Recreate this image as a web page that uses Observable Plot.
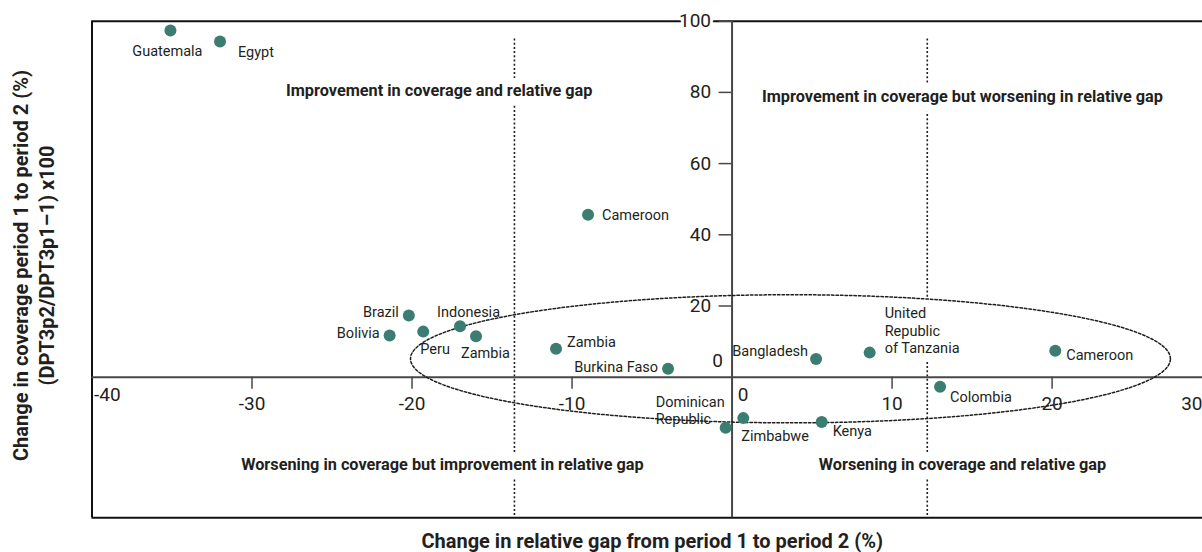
<!DOCTYPE html>
<html>
<head>
<meta charset="utf-8">
<script src="https://cdn.jsdelivr.net/npm/d3@7"></script>
<script src="https://cdn.jsdelivr.net/npm/@observablehq/plot@0.6"></script>
<style>
  html, body { margin: 0; padding: 0; background: #fff; }
  #chart svg { display: block; }
</style>
</head>
<body>
<div id="chart"></div>
<script>
// ---- data ----
const countries = ["Guatemala", "Egypt", "Cameroon", "Brazil", "Bolivia", "Peru", "Indonesia", "Zambia", "Zambia",
  "Burkina Faso", "Bangladesh", "United\nRepublic\nof Tanzania", "Colombia", "Cameroon", "Dominican\nRepublic", "Zimbabwe", "Kenya"];
const relativeGapChange = [-35.1, -32.0, -9.0, -20.2, -21.4, -19.3, -17.0, -16.0, -11.0, -4.0, 5.25, 8.6, 13.0, 20.2, -0.4, 0.7, 5.6];
const coverageChange = [97.4, 94.3, 45.6, 17.3, 11.7, 12.8, 14.3, 11.5, 8.0, 2.4, 5.1, 6.9, -2.7, 7.4, -14.2, -11.5, -12.6];

const xTickValues = [-40, -30, -20, -10, 0, 10, 20, 30];
const yTickValues = [0, 20, 40, 60, 80, 100];

const quadrantTexts = [
  "Improvement in coverage and relative gap",
  "Improvement in coverage but worsening in relative gap",
  "Worsening in coverage but improvement in relative gap",
  "Worsening in coverage and relative gap"
];
const quadrantX = [-18.3, 14.4, -18.1, 14.4];
const quadrantY = [80.5, 78.7, -24.5, -24.5];

const cutoffLines = [-13.6, 12.2];
const cutoffTop = 95;
// ellipse annotation: centre x, centre y, semi-axis x, semi-axis y
const ellipseSpec = [3.65, 5.17, 23.75, 18];

const xDomain = [-40, 29.4];
const yDomain = [-39.5, 100];

const xTitle = "Change in relative gap from period 1 to period 2 (%)";
const yTitle1 = "Change in coverage period 1 to period 2 (%)";
const yTitle2 = "(DPT3p2/DPT3p1\u20131) x100";

// ---- label placement (style, not data) ----
const labelPlacement = [
  ["middle", -3, 20], ["start", 18, 10], ["start", 14, 0], ["end", -10, -4], ["end", -10, -3],
  ["start", -3, 17], ["start", -23, -15], ["start", -15, 16], ["start", 11, -7], ["end", -10, -2],
  ["end", -8, -9], ["start", 15, -22.5], ["start", 10, 10], ["start", 11, 4], ["start", -70, -17.6],
  ["start", -2, 17], ["start", 11, 8]
];

const idx = countries.map((_, i) => i);
const px = i => relativeGapChange[i];
const py = i => coverageChange[i];

const steps = d3.range(0, 361, 3);
const ellipsePts = steps.map(a => {
  const t = a * Math.PI / 180;
  return {x: ellipseSpec[0] + ellipseSpec[2] * Math.cos(t), y: ellipseSpec[1] + ellipseSpec[3] * Math.sin(t)};
});

const FONT = "Roboto, 'Open Sans', sans-serif";
const TXT = "#231f20";
const DOT = "#3b7d70";
const LABEL_SIZE = 14.5;
const TICK_SIZE = 19;
const QUAD_SIZE = 16.3;
const TITLE_SIZE = 20;

const labelMarks = idx.map(i => Plot.text([i], {
  x: px, y: py, text: d => countries[d],
  textAnchor: labelPlacement[i][0], dx: labelPlacement[i][1], dy: labelPlacement[i][2],
  fontSize: LABEL_SIZE, fill: TXT, lineHeight: 1.2, lineAnchor: "middle"
}));

const tanzania = 11;

const chart = Plot.plot({
  width: 1202,
  height: 552,
  marginLeft: 91.5,
  marginRight: 0,
  marginTop: 20.7,
  marginBottom: 34.7,
  x: {domain: xDomain, axis: null},
  y: {domain: yDomain, axis: null},
  style: {fontFamily: FONT, color: TXT, background: "white", overflow: "visible"},
  marks: [
    // dotted cut-off lines
    Plot.ruleX(cutoffLines, {x: d => d, y1: cutoffTop, y2: yDomain[0], stroke: "#1e1e1e", strokeWidth: 1.6, strokeDasharray: "2,2.2"}),
    // white boxes behind quadrant labels and Tanzania label
    Plot.text(quadrantTexts, {x: (d, i) => quadrantX[i], y: (d, i) => quadrantY[i], text: d => d,
      fontSize: QUAD_SIZE, fontWeight: "bold", fill: "white", stroke: "white", strokeWidth: 18, strokeLinejoin: "round"}),
    Plot.text([tanzania], {x: px, y: py, text: d => countries[d], textAnchor: "start", dx: 15, dy: -22.5,
      fontSize: LABEL_SIZE, lineHeight: 1.2, lineAnchor: "middle", fill: "white", stroke: "white", strokeWidth: 18, strokeLinejoin: "round"}),
    // frame
    Plot.ruleY([yDomain[1], yDomain[0]], {y: d => d, stroke: "#111", strokeWidth: 2}),
    Plot.ruleX([xDomain[0]], {x: d => d, stroke: "#111", strokeWidth: 2}),
    // axes through origin
    Plot.ruleY([0], {y: d => d, stroke: "#474747", strokeWidth: 2}),
    Plot.ruleX([0], {x: d => d, stroke: "#474747", strokeWidth: 2}),
    // ticks
    Plot.ruleX(xTickValues.filter(v => v !== 0 && v > xDomain[0] && v < xDomain[1]),
      {x: d => d, y1: 0, y2: 0, insetBottom: -12, stroke: "#474747", strokeWidth: 1.5}),
    Plot.ruleY(yTickValues.filter(v => v > 0),
      {y: d => d, x1: 0, x2: 0, insetLeft: -13, stroke: "#474747", strokeWidth: 1.5}),
    // x tick labels
    Plot.text(xTickValues.filter(v => v !== 0 && v > xDomain[0] && v < xDomain[1]),
      {x: d => d, y: 0, text: d => String(d), dy: 27, fontSize: TICK_SIZE, fill: TXT}),
    Plot.text(xTickValues.filter(v => v === xDomain[0]),
      {x: d => d, y: 0, text: d => String(d), dy: 18, dx: 2, textAnchor: "start", fontSize: TICK_SIZE, fill: TXT}),
    Plot.text(xTickValues.filter(v => v === 0),
      {x: d => d, y: 0, text: d => String(d), dy: 18, dx: 11, fontSize: TICK_SIZE, fill: TXT}),
    Plot.text(xTickValues.filter(v => v > xDomain[1]),
      {frameAnchor: "right", y: 0, text: d => String(d), dy: 27, textAnchor: "end", lineAnchor: "middle", fontSize: TICK_SIZE, fill: TXT}),
    // y tick labels
    Plot.text(yTickValues.filter(v => v > 0),
      {x: 0, y: d => d, text: d => String(d), dx: -21, textAnchor: "end", fontSize: TICK_SIZE, fill: TXT,
       stroke: "white", strokeWidth: 6, paintOrder: "stroke"}),
    Plot.text(yTickValues.filter(v => v === 0),
      {x: 0, y: d => d, text: d => String(d), dx: -9, dy: -16, textAnchor: "end", fontSize: TICK_SIZE, fill: TXT}),
    // dotted ellipse
    Plot.line(ellipsePts, {x: "x", y: "y", stroke: "#1e1e1e", strokeWidth: 1.5, strokeDasharray: "2.5,2", curve: "linear"}),
    // country dots and labels
    Plot.dot(idx, {x: px, y: py, r: 6, fill: DOT, stroke: "none"}),
    ...labelMarks,
    // quadrant labels
    Plot.text(quadrantTexts, {x: (d, i) => quadrantX[i], y: (d, i) => quadrantY[i], text: d => d,
      fontSize: QUAD_SIZE, fontWeight: "bold", fill: TXT}),
    // axis titles
    Plot.text([xTitle], {frameAnchor: "bottom", text: d => d, dy: 24, dx: 5, textAnchor: "middle", lineAnchor: "middle",
      fontSize: TITLE_SIZE, fontWeight: "bold", fill: TXT}),
    Plot.text([yTitle1], {frameAnchor: "left", text: d => d, dx: -70, dy: -4, rotate: -90, textAnchor: "middle", lineAnchor: "middle",
      fontSize: TITLE_SIZE, fontWeight: "bold", fill: TXT}),
    Plot.text([yTitle2], {frameAnchor: "left", text: d => d, dx: -44, dy: -4, rotate: -90, textAnchor: "middle", lineAnchor: "middle",
      fontSize: TITLE_SIZE, fontWeight: "bold", fill: TXT})
  ]
});
document.getElementById("chart").appendChild(chart);
</script>
</body>
</html>
